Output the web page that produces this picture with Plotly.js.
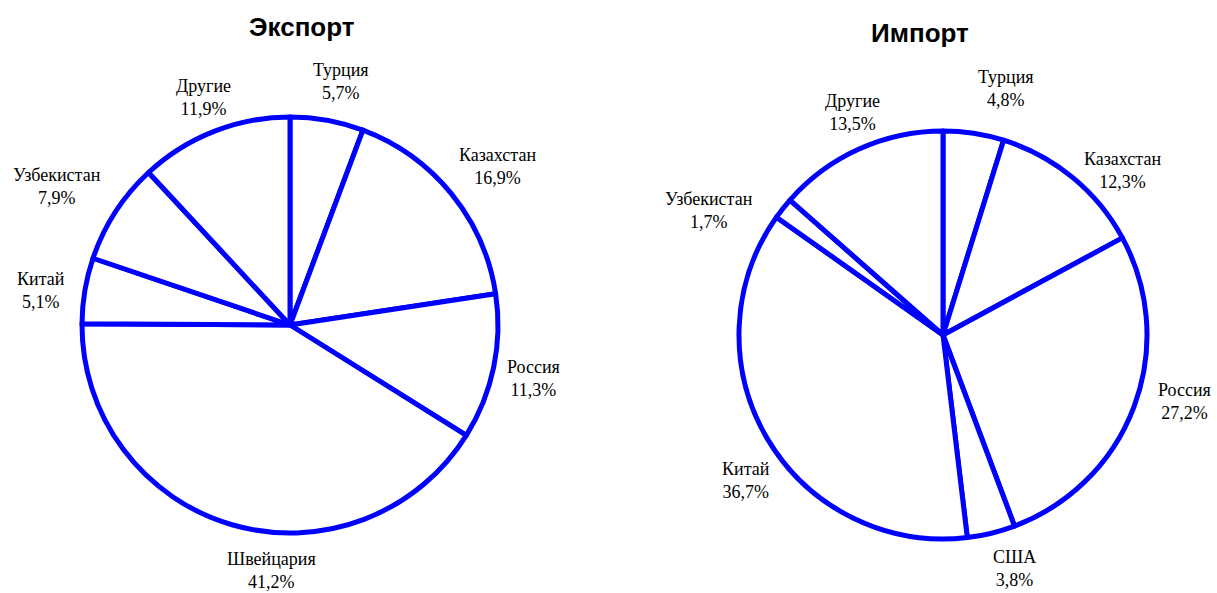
<!DOCTYPE html>
<html>
<head>
<meta charset="utf-8">
<script src="https://cdn.plot.ly/plotly-3.0.1.min.js"></script>
<style>html,body{margin:0;padding:0;background:#fff;}#chart{width:1217px;height:593px;}</style>
</head>
<body>
<div id="chart"></div>
<script>
// Data
const exportLabels = ["Турция", "Казахстан", "Россия", "Швейцария", "Китай", "Узбекистан", "Другие"];
const exportValues = [5.7, 16.9, 11.3, 41.2, 5.1, 7.9, 11.9];
const importLabels = ["Турция", "Казахстан", "Россия", "США", "Китай", "Узбекистан", "Другие"];
const importValues = [4.8, 12.3, 27.2, 3.8, 36.7, 1.7, 13.5];
const titles = ["Экспорт", "Импорт"];

// Layout (pixels)
const W = 1217, H = 593;
const LINE = "#0000FF";
const labelFont = {family: "Liberation Serif, Times New Roman, serif", size: 18, color: "#000"};
const titleFont = {family: "Liberation Sans, Arial, sans-serif", size: 26, color: "#000", weight: "bold"};

// label nudges (px) relative to the mid-angle position, per slice
const exportNudge = [[7, 2], [14, -1], [-1, 3], [51, 6], [-3, 7], [-24, -3], [5, 5]];
const importNudge = [[26, -4], [24, 25], [12, -19], [14, -4], [13, 20], [-42, 27], [10, 1]];

const pies = [
  {cx: 290, cy: 325, r: 208, labels: exportLabels, values: exportValues, nudge: exportNudge, tx: 302, ty: 27},
  {cx: 943, cy: 335, r: 204, labels: importLabels, values: importValues, nudge: importNudge, tx: 920, ty: 33}
];

function fmt(v) { return v.toFixed(1).replace(".", ",") + "%"; }

const traces = [];
const annotations = [];
pies.forEach((p, i) => {
  traces.push({
    type: "pie",
    labels: p.labels,
    values: p.values,
    sort: false,
    direction: "clockwise",
    rotation: 0,
    textinfo: "none",
    hoverinfo: "label+percent",
    marker: {colors: p.labels.map(() => "#ffffff"), line: {color: LINE, width: 5}},
    domain: {
      x: [(p.cx - p.r) / W, (p.cx + p.r) / W],
      y: [1 - (p.cy + p.r) / H, 1 - (p.cy - p.r) / H]
    },
    showlegend: false
  });
  const total = p.values.reduce((a, b) => a + b, 0);
  let cum = 0;
  p.values.forEach((v, j) => {
    const mid = (cum + v / 2) / total * 2 * Math.PI;
    cum += v;
    const R = p.r * 1.2;
    const px = p.cx + R * Math.sin(mid) + p.nudge[j][0];
    const py = p.cy - R * Math.cos(mid) + p.nudge[j][1];
    annotations.push({
      xref: "paper", yref: "paper",
      x: px / W, y: 1 - py / H,
      xanchor: "center", yanchor: "middle",
      text: p.labels[j] + "<br>" + fmt(v),
      showarrow: false,
      font: labelFont
    });
  });
  annotations.push({
    xref: "paper", yref: "paper",
    x: p.tx / W, y: 1 - p.ty / H,
    xanchor: "center", yanchor: "middle",
    text: "<b>" + titles[i] + "</b>",
    showarrow: false,
    font: titleFont
  });
});

Plotly.newPlot("chart", traces, {
  width: W, height: H,
  margin: {l: 0, r: 0, t: 0, b: 0},
  paper_bgcolor: "#fff",
  plot_bgcolor: "#fff",
  annotations: annotations,
  showlegend: false
}, {displayModeBar: false, staticPlot: true});
</script>
</body>
</html>
